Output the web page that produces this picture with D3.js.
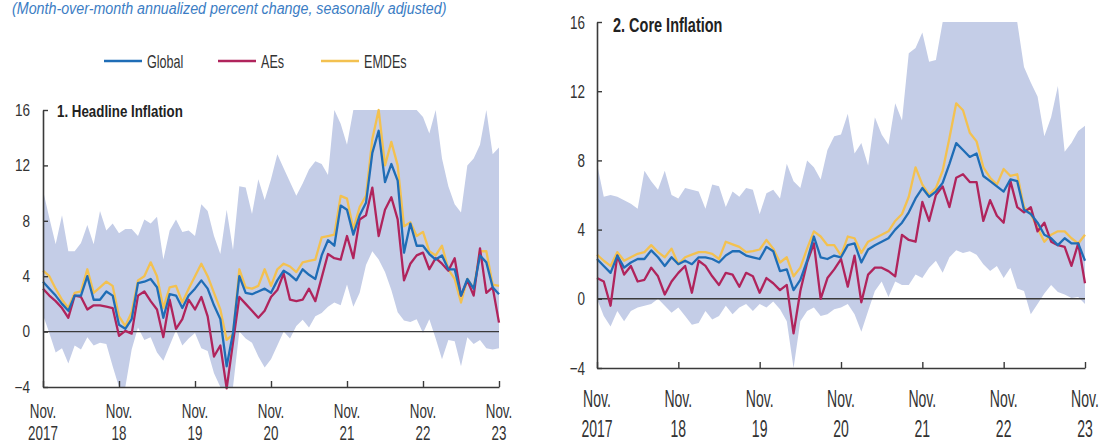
<!DOCTYPE html>
<html><head><meta charset="utf-8">
<script src="https://cdn.jsdelivr.net/npm/d3@7"></script>
<style>body{margin:0;background:#fff}svg{display:block}</style>
</head><body>
<svg id="chart" width="1099" height="445"></svg>
<script>
// ---------- data (monthly, Nov 2017 .. Nov 2023) ----------
const startMonth = new Date(2017, 10, 1);
const xTickIndex = [0, 12, 24, 36, 48, 60, 72];
const xTickLabels = [["Nov.", "2017"], ["Nov.", "18"], ["Nov.", "19"], ["Nov.", "20"], ["Nov.", "21"], ["Nov.", "22"], ["Nov.", "23"]];
const yTicks = [-4, 0, 4, 8, 12, 16];
const seriesNames = ["Global", "AEs", "EMDEs"];

const headlineGlobal = [3.6,3.1,2.6,2.0,1.5,2.6,2.6,4.0,2.3,2.3,2.9,2.6,
  0.5,0.2,0.9,3.5,3.6,3.8,3.2,1.0,2.7,2.6,1.7,2.6,
  3.1,3.7,3.1,1.9,0.9,-2.5,-0.1,4.0,2.8,2.7,2.9,3.1,
  2.8,3.7,4.4,4.1,3.7,4.5,4.1,3.8,5.5,6.6,6.2,9.1,
  8.8,7.0,8.4,9.3,12.9,14.5,10.8,12.1,10.9,5.7,7.8,6.2,
  6.2,5.6,5.2,5.5,4.5,4.5,2.6,3.8,3.1,5.5,5.0,3.2,2.7];
const headlineAEs = [3.1,2.6,2.2,1.7,1.0,2.6,2.5,1.6,1.9,1.9,1.8,1.7,
  -0.3,0.05,-0.15,2.6,2.9,2.2,1.6,-0.4,2.3,0.2,0.9,2.3,
  1.6,2.5,1.1,-1.8,-1.0,-4.1,-0.8,2.5,2.0,1.5,1.0,1.5,
  2.5,3.0,4.2,2.3,2.2,2.3,3.1,2.2,3.9,5.6,5.3,5.2,
  6.9,5.3,8.1,8.4,10.4,6.9,8.8,9.7,8.1,3.7,4.9,5.5,
  5.7,4.5,5.3,4.9,4.4,5.3,2.6,3.7,2.6,6.0,2.8,3.2,0.65];
const headlineEMDEs = [4.4,4.0,3.1,2.3,1.7,2.8,2.9,4.5,2.8,3.2,3.6,3.3,
  1.1,0.4,1.4,3.7,4.0,5.0,4.0,1.7,3.2,3.3,2.1,3.1,
  4.0,4.9,4.0,2.8,1.6,-0.6,-0.2,4.5,3.2,3.1,3.3,4.5,
  3.3,4.5,4.9,4.7,4.3,5.0,5.1,5.2,6.8,6.9,7.0,9.8,
  9.6,7.4,9.0,9.8,13.9,16.0,12.0,13.7,12.0,7.6,7.9,6.9,
  7.2,5.8,5.5,6.2,4.5,3.8,2.1,3.8,3.1,5.8,5.8,3.4,3.3];
const headlineBandHigh = [10.2,8.2,6.3,8.4,5.8,5.8,6.4,7.7,6.3,8.7,7.3,7.8,
  7.1,7.4,7.4,6.9,8.1,7.8,8.3,5.2,7.3,8.1,7.2,7.3,
  6.9,9.2,8.7,6.9,5.6,8.8,5.9,10.5,10.4,8.5,11.0,9.5,
  11.0,12.8,11.8,10.8,9.8,10.7,11.7,12.3,12.1,11.3,16,15,
  13.5,16,16,16,16,16,16,16,16,16,16,16,
  15.5,14.3,16,12.5,10.5,9.2,8.6,12.0,12.5,13.5,16,12.8,13.3];
const headlineBandLow = [1.2,-0.1,-1.5,-1.2,-2.3,-1.0,-1.3,-0.4,-1.0,-0.8,-0.9,-2.5,
  -4,-4,-1.3,0.3,-0.6,-0.4,-1.5,-2.1,-1.0,0.1,-1.0,-0.5,
  -0.1,-1.2,-1.4,-3.0,-4,-4,-4,0,-0.5,-0.8,-1.8,-2.6,
  -2.0,-1.0,0,-0.5,0.4,0.85,0.3,1.1,1.35,1.8,2.1,1.9,
  3.4,1.8,2.8,4.8,5.8,5.2,4.3,3.0,1.4,0.8,0.7,0.9,
  -0.1,0.9,-0.5,-2.0,-0.6,-0.7,-2.5,-0.4,-0.9,-0.6,-1.2,-1.3,-1.2];

const coreGlobal = [2.3,1.9,1.5,2.5,1.8,2.1,2.3,2.3,2.8,2.4,1.9,2.4,
  2.0,2.2,2.0,2.4,2.4,2.3,2.1,2.5,2.75,2.75,2.5,2.4,
  2.3,3.0,2.75,1.6,1.7,0.5,1.1,2.2,3.6,2.4,2.3,2.5,
  2.4,3.1,3.2,2.1,2.85,3.1,3.3,3.5,4.0,4.4,5.0,5.8,
  6.4,5.9,6.2,6.7,7.8,9.0,8.6,8.2,8.4,7.1,6.8,6.5,
  6.2,6.9,6.8,5.15,4.9,4.4,3.7,3.5,3.1,3.5,3.2,3.2,2.2];
const coreAEs = [1.2,1.0,-0.4,2.5,1.4,1.9,1.0,1.1,1.8,1.3,0.25,1.0,
  1.5,1.9,0.35,2.2,1.9,1.3,0.8,1.5,1.4,0.7,1.5,1.3,
  0.35,1.2,0.9,0.5,0.8,-2.0,0.45,2.1,3.2,0.0,1.2,1.7,
  2.3,0.7,2.5,-0.2,1.4,1.8,1.8,1.6,1.3,3.7,3.4,3.3,
  5.6,4.5,6.0,6.5,5.3,7.0,7.2,6.75,6.75,4.5,5.7,4.8,
  4.4,6.8,5.3,5.0,5.3,3.9,4.4,3.3,3.1,3.0,1.9,3.2,0.9];
const coreEMDEs = [2.55,2.2,1.9,2.7,2.2,2.4,2.6,2.7,3.1,2.7,2.4,2.9,
  2.0,2.4,2.55,2.7,2.7,2.6,2.3,3.3,3.15,3.0,2.7,2.75,
  2.85,3.4,2.9,2.1,2.4,1.3,1.8,2.9,3.9,3.6,3.1,3.1,
  2.5,3.6,3.5,2.65,3.3,3.5,3.7,3.9,4.5,4.9,5.9,7.6,
  6.6,6.0,6.4,7.4,9.3,11.3,10.9,9.6,9.1,7.6,7.0,6.6,
  7.5,7.1,7.2,5.3,4.9,4.1,3.3,3.7,3.9,3.9,3.5,3.2,3.7];
const coreBandHigh = [7.8,5.9,6.0,5.9,5.7,5.5,5.2,7.4,6.8,6.3,7.4,6.0,
  5.8,6.4,6.3,6.2,5.2,6.6,6.5,5.3,6.2,5.9,6.4,6.3,
  4.9,6.1,6.3,5.8,7.8,6.8,6.4,8.0,7.6,6.9,8.6,9.4,
  9.5,10.7,8.4,9.0,7.7,10.5,9.5,8.9,11.3,10.3,14.2,14.5,
  15.4,13.7,13.8,16,16,16,16,16,16,16,16,16,
  16,16,16,13.4,12.5,11.7,9.4,10.5,12.3,8.5,9.0,9.7,10.0];
const coreBandLow = [0,-1.0,-1.6,-0.7,-1.3,-0.7,-0.5,-0.4,-0.3,0,-0.4,-0.8,
  -0.5,-1.0,-1.5,-1.4,-0.7,-1.2,-1.0,-0.4,-0.9,-0.5,-0.3,-0.7,
  -0.3,-0.5,-0.15,-0.6,-1.3,-4,-1.3,-0.7,-0.5,-1.0,-0.9,-0.6,
  -0.5,-0.3,-0.9,-1.9,-0.7,0.45,1.0,0.1,1.0,0.8,0.8,1.4,
  1.2,1.8,2.2,1.5,2.4,2.8,2.65,2.75,2.55,2.0,1.6,1.9,
  1.2,1.8,0.6,0.45,-0.9,-0.3,0.3,0.8,0.4,0.25,0.05,0.1,-0.3];

// ---------- styles ----------
const COLORS = {Global: "#1f6db6", AEs: "#b0245c", EMDEs: "#f3c150"};
const BAND = "#c4cde7";
const AXIS = "#3a3a3a";
const FONT = "'Liberation Sans', Arial, sans-serif";

const months = d3.range(headlineGlobal.length).map(i => d3.timeMonth.offset(startMonth, i));

const svg = d3.select("#chart");

function txt(g, x, y, s, o) {
  const sy = o.sy || 1;
  return g.append("text")
    .attr("transform", `translate(${x},${y}) scale(${o.sx || 1},${sy})`)
    .attr("text-anchor", o.anchor || "start")
    .attr("font-family", FONT)
    .attr("font-size", o.size)
    .attr("font-weight", o.weight || "normal")
    .attr("font-style", o.style || "normal")
    .attr("fill", o.fill || "#333")
    .text(s);
}

// subtitle
txt(svg, 12, 14, "(Month-over-month annualized percent change, seasonally adjusted)",
  {size: 16.8, sx: 0.85, style: "italic", fill: "#3b7dc4"});

// legend
const legendItems = [
  {name: "Global", x1: 104, x2: 142},
  {name: "AEs", x1: 218, x2: 256},
  {name: "EMDEs", x1: 321, x2: 359}
];
const legY = 61;
legendItems.forEach(d => {
  svg.append("line").attr("x1", d.x1).attr("x2", d.x2).attr("y1", legY).attr("y2", legY)
    .attr("stroke", COLORS[d.name]).attr("stroke-width", 2.5);
  txt(svg, d.x2 + 5, legY + 6.5, d.name, {size: 18, sx: 0.7, fill: "#333"});
});

function panel(cfg) {
  const n = cfg.global.length;
  const x = d3.scaleLinear().domain([0, n - 1]).range([cfg.x0, cfg.x1]);
  const y = d3.scaleLinear().domain([-4, 16]).range([cfg.yBot, cfg.yTop]);
  const g = svg.append("g");
  const clipId = "clip" + cfg.id;
  svg.append("clipPath").attr("id", clipId).append("rect")
    .attr("x", cfg.x0).attr("y", cfg.yTop).attr("width", cfg.x1 - cfg.x0 + 1).attr("height", cfg.yBot - cfg.yTop);

  const idx = d3.range(n);
  // band
  g.append("path").datum(idx)
    .attr("clip-path", `url(#${clipId})`)
    .attr("fill", BAND)
    .attr("d", d3.area().x(i => x(i)).y0(i => y(cfg.low[i])).y1(i => y(cfg.high[i])));

  // zero line
  g.append("line").attr("x1", cfg.x0).attr("x2", cfg.x1).attr("y1", y(0)).attr("y2", y(0))
    .attr("stroke", AXIS).attr("stroke-width", 1.4);

  // series lines
  const line = arr => d3.line().x(i => x(i)).y(i => y(arr[i]))(idx);
  [["EMDEs", cfg.emdes], ["AEs", cfg.aes], ["Global", cfg.global]].forEach(([name, arr]) => {
    g.append("path").attr("d", line(arr)).attr("fill", "none")
      .attr("stroke", COLORS[name]).attr("stroke-width", 2.3).attr("stroke-linejoin", "round");
  });

  // axes
  const ax = g.append("g").attr("transform", `translate(0,${cfg.yBot})`)
    .call(d3.axisBottom(x).tickValues(xTickIndex).tickSize(-6).tickSizeOuter(0).tickFormat(""));
  const ay = g.append("g").attr("transform", `translate(${cfg.x0},0)`)
    .call(d3.axisLeft(y).tickValues(yTicks).tickSize(-5).tickSizeOuter(0).tickFormat(""));
  [ax, ay].forEach(a => {
    a.select(".domain").attr("stroke", AXIS).attr("stroke-width", 1.6);
    a.selectAll(".tick line").attr("stroke", AXIS).attr("stroke-width", 1.4);
  });

  // y labels
  yTicks.forEach(v => {
    txt(g, cfg.x0 - cfg.yLabGap, y(v) + 0.36 * cfg.yLab.size * (cfg.yLab.sy || 1), v < 0 ? "\u2212" + Math.abs(v) : String(v),
      Object.assign({anchor: "end"}, cfg.yLab));
  });
  // x labels
  xTickIndex.forEach((t, k) => {
    txt(g, x(t), cfg.xLab1, xTickLabels[k][0], Object.assign({anchor: "middle"}, cfg.xLab));
    txt(g, x(t), cfg.xLab2, xTickLabels[k][1], Object.assign({anchor: "middle"}, cfg.xLab));
  });
  // title
  txt(g, cfg.titleX, cfg.titleY, cfg.title, Object.assign({weight: "bold", fill: "#222"}, cfg.titleStyle));
}

panel({
  id: "L", x0: 43, x1: 499, yTop: 110, yBot: 387,
  global: headlineGlobal, aes: headlineAEs, emdes: headlineEMDEs,
  high: headlineBandHigh, low: headlineBandLow,
  yLabGap: 13, yLab: {size: 16.3, sx: 0.83},
  xLab: {size: 20, sx: 0.67}, xLab1: 418, xLab2: 440,
  title: "1. Headline Inflation", titleX: 57, titleY: 117, titleStyle: {size: 17.2, sx: 0.775}
});
panel({
  id: "R", x0: 597, x1: 1085, yTop: 22, yBot: 368,
  global: coreGlobal, aes: coreAEs, emdes: coreEMDEs,
  high: coreBandHigh, low: coreBandLow,
  yLabGap: 12, yLab: {size: 18.6, sx: 0.725},
  xLab: {size: 23, sx: 0.61}, xLab1: 407, xLab2: 437,
  title: "2. Core Inflation", titleX: 613, titleY: 32, titleStyle: {size: 21, sx: 0.69}
});
</script>
</body></html>
